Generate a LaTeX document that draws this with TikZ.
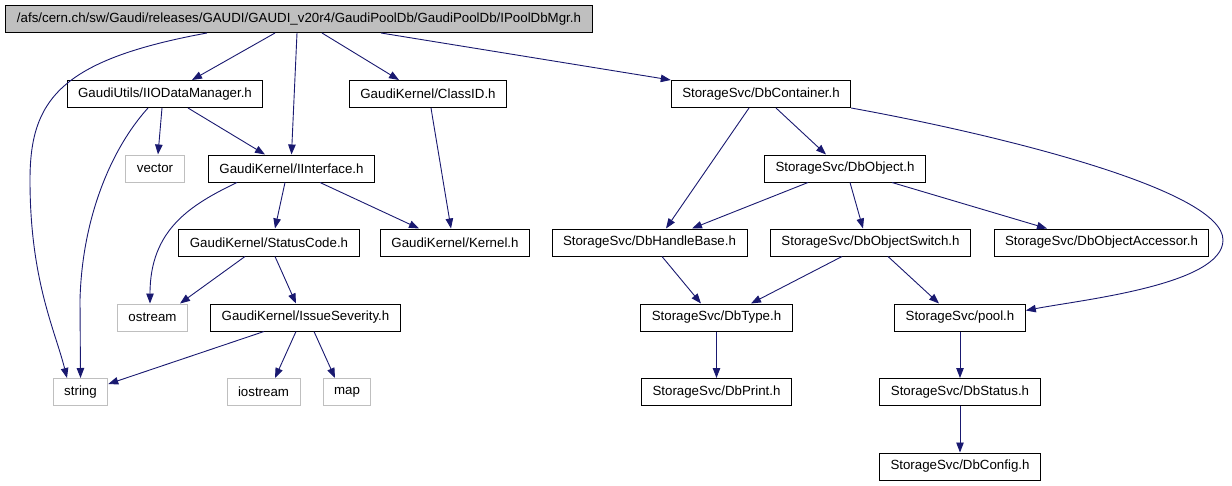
\documentclass[tikz,border=0pt]{standalone}
\usepackage{fontspec}
\setmainfont{Liberation Sans}
\usepackage{xcolor}
\usepackage{tikz}
\usetikzlibrary{arrows.meta}

\definecolor{edgeblue}{HTML}{191970}
\definecolor{boxgray}{HTML}{BFBFBF}

\begin{document}
\begin{tikzpicture}[x=1pt, y=-1pt,
    hdr/.style={draw=black, line width=1pt, fill=white, minimum height=27pt, inner xsep=11pt, inner ysep=0pt,
                font=\fontsize{13.3}{16}\selectfont},
    sys/.style={hdr, draw=boxgray},
    root/.style={hdr, fill=boxgray},
    inc/.style={draw=edgeblue, line width=0.9pt, -{Triangle[length=10pt,width=7.5pt]}}]
    \useasboundingbox (0,0) rectangle (1232,485);

    % Root header
    \node[root] (mgr) at (299,19) {/afs/cern.ch/sw/Gaudi/releases/GAUDI/GAUDI\_v20r4/GaudiPoolDb/GaudiPoolDb/IPoolDbMgr.h};

    % Gaudi headers
    \node[hdr] (iodm) at (165,94) {GaudiUtils/IIODataManager.h};
    \node[hdr] (classid) at (428,94) {GaudiKernel/ClassID.h};
    \node[hdr] (iface) at (291.5,168.5) {GaudiKernel/IInterface.h};
    \node[hdr] (status) at (269,242.5) {GaudiKernel/StatusCode.h};
    \node[hdr] (kernel) at (455,242.5) {GaudiKernel/Kernel.h};
    \node[hdr] (severity) at (305.5,317.5) {GaudiKernel/IssueSeverity.h};

    % StorageSvc headers
    \node[hdr] (dbcont) at (761,94) {StorageSvc/DbContainer.h};
    \node[hdr] (dbobj) at (845,168.5) {StorageSvc/DbObject.h};
    \node[hdr] (dbhandle) at (649.5,242.5) {StorageSvc/DbHandleBase.h};
    \node[hdr] (dbswitch) at (870.5,242.5) {StorageSvc/DbObjectSwitch.h};
    \node[hdr] (dbacc) at (1101.5,242.5) {StorageSvc/DbObjectAccessor.h};
    \node[hdr] (dbtype) at (716.5,317.5) {StorageSvc/DbType.h};
    \node[hdr] (pool) at (960,317.5) {StorageSvc/pool.h};
    \node[hdr] (dbprint) at (716.5,392) {StorageSvc/DbPrint.h};
    \node[hdr] (dbstatus) at (960,392) {StorageSvc/DbStatus.h};
    \node[hdr] (dbconfig) at (960,466.5) {StorageSvc/DbConfig.h};

    % System headers
    \node[sys] (vector) at (155,168.5) {vector};
    \node[sys] (ostream) at (152.5,317.5) {ostream};
    \node[sys] (string) at (80.5,392) {string};
    \node[sys] (iostream) at (263.5,392) {iostream};
    \node[sys] (map) at (347,392) {map};

    % Includes of the root
    \draw[inc] ([xshift=-92]mgr.south) .. controls (60,60) and (30,100) .. (30,180)
        .. controls (30,280) and (55,330) .. ([xshift=-13.5]string.north);
    \draw[inc] ([xshift=-24]mgr.south) -- ([xshift=27]iodm.north);
    \draw[inc] ([xshift=-2]mgr.south) -- (iface.north);
    \draw[inc] ([xshift=23]mgr.south) -- ([xshift=-29]classid.north);
    \draw[inc] ([xshift=82]mgr.south) -- (dbcont.north west);

    % Gaudi includes
    \draw[inc] ([xshift=-3]iodm.south) -- ([xshift=3]vector.north);
    \draw[inc] ([xshift=23]iodm.south) -- ([xshift=-26.5]iface.north);
    \draw[inc] ([xshift=-17]iodm.south) .. controls (110,150) and (82,220) .. (80,300) -- (string.north);
    \draw[inc] ([xshift=3]classid.south) -- ([xshift=-4]kernel.north);
    \draw[inc] ([xshift=-54.5]iface.south) .. controls (190,205) and (150,230) .. ([xshift=-2.5]ostream.north);
    \draw[inc] ([xshift=-6.5]iface.south) -- ([xshift=6]status.north);
    \draw[inc] ([xshift=28.5]iface.south) -- ([xshift=-36]kernel.north);
    \draw[inc] ([xshift=-24]status.south) -- ([xshift=27.5]ostream.north);
    \draw[inc] ([xshift=6]status.south) -- ([xshift=-9.5]severity.north);
    \draw[inc] ([xshift=-41.5]severity.south) -- ([yshift=8]string.east);
    \draw[inc] ([xshift=-9.5]severity.south) -- ([xshift=11.5]iostream.north);
    \draw[inc] ([xshift=8.5]severity.south) -- ([xshift=-12]map.north);

    % StorageSvc includes
    \draw[inc] ([xshift=-12]dbcont.south) -- ([xshift=16.5]dbhandle.north);
    \draw[inc] ([xshift=15]dbcont.south) -- ([xshift=-19]dbobj.north);
    \draw[inc] (dbcont.south east) .. controls (1000,135) and (1223,190) .. (1223,240)
        .. controls (1223,285) and (1080,300) .. ([yshift=7]pool.east);
    \draw[inc] ([xshift=-37]dbobj.south) -- ([xshift=42.5]dbhandle.north);
    \draw[inc] ([xshift=5]dbobj.south) -- ([xshift=-7.5]dbswitch.north);
    \draw[inc] ([xshift=47]dbobj.south) -- ([xshift=-54.5]dbacc.north);
    \draw[inc] ([xshift=12.5]dbhandle.south) -- ([xshift=-15.5]dbtype.north);
    \draw[inc] ([xshift=-28.5]dbswitch.south) -- ([xshift=34.5]dbtype.north);
    \draw[inc] ([xshift=17.5]dbswitch.south) -- ([xshift=-21]pool.north);
    \draw[inc] (dbtype) -- (dbprint);
    \draw[inc] (pool) -- (dbstatus);
    \draw[inc] (dbstatus) -- (dbconfig);
\end{tikzpicture}
\end{document}
